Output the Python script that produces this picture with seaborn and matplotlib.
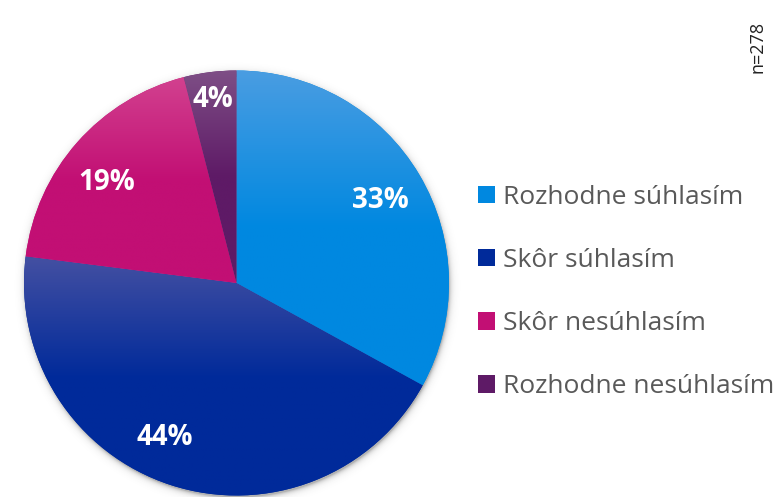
import numpy as np
import matplotlib
matplotlib.use("Agg")
import matplotlib.pyplot as plt
import seaborn as sns
from matplotlib.colors import to_rgb
from matplotlib.patches import Patch

# Survey answers and their shares (percent)
categories = ["Rozhodne súhlasím", "Skôr súhlasím", "Skôr nesúhlasím", "Rozhodne nesúhlasím"]
shares = [33, 44, 19, 4]
value_labels = ["33%", "44%", "19%", "4%"]
sample_note = "n=278"

sns.set_theme(style="white")
plt.rcParams["font.family"] = ["Open Sans", "DejaVu Sans"]

# Slice styling: solid base colour with a lighter tone fading in from the top
base_colors = ["#0088E0", "#002A9A", "#C20F74", "#5E1A66"]
top_colors = ["#4A9DE2", "#4450A2", "#D2418F", "#7E4F86"]
# label placement: radial distance (fraction of radius) and angular nudge (deg)
label_dist = [0.78, 0.80, 0.77, 0.87]
label_nudge = [-0.6, -7.0, 3.7, 0.0]

W, H = 777, 497
fig = plt.figure(figsize=(W / 100, H / 100), dpi=100)
fig.patch.set_facecolor("white")
ax = fig.add_axes([0, 0, 1, 1])

cx, cy, R = 236.5, H - 283, 212.5

wedges, _ = ax.pie(shares, colors=base_colors, startangle=90, counterclock=False,
                   center=(cx, cy), radius=R, frame=True,
                   wedgeprops=dict(linewidth=0, zorder=2))

# soft drop shadow around the pie
X, Y = np.meshgrid(np.arange(W) + 0.5, np.arange(H) + 0.5)
d = np.hypot(X - (cx + 1.0), Y - (cy - 2.5))
alpha = 0.40 * np.exp(-np.clip(d - R + 1.0, 0, None) / 2.5)
alpha[d < R - 4] = 0
shadow = np.zeros((H, W, 4))
shadow[..., :3] = 0.25
shadow[..., 3] = alpha
ax.imshow(shadow, extent=(0, W, 0, H), origin="lower", aspect="auto", zorder=1,
          interpolation="bilinear")

# vertical gradient fill inside each slice
for w, top, base in zip(wedges, top_colors, base_colors):
    verts = w.get_path().vertices
    y0, y1 = verts[:, 1].min(), verts[:, 1].max()
    ys = np.linspace(y1, y0, 300)
    t = np.clip((y1 - ys) / ((y1 - y0) * 0.5), 0, 1)
    c0, c1 = np.array(to_rgb(top)), np.array(to_rgb(base))
    col = c0[None, :] * (1 - t[:, None]) + c1[None, :] * t[:, None]
    img = np.repeat(col[:, None, :], 2, axis=1)
    im = ax.imshow(img, extent=(cx - R, cx + R, y0, y1), origin="upper", aspect="auto",
                   zorder=3, interpolation="bilinear")
    im.set_clip_path(w)

# percentage labels
cum = np.cumsum([0] + shares)
total = float(sum(shares))
for i, (lab, dist, nudge) in enumerate(zip(value_labels, label_dist, label_nudge)):
    theta = np.deg2rad(90 - 360 * (cum[i] + shares[i] / 2) / total + nudge)
    ax.text(cx + dist * R * np.cos(theta), cy + dist * R * np.sin(theta), lab,
            ha="center", va="center", color="white", fontsize=20, fontweight="bold",
            zorder=5)

ax.set_xlim(0, W)
ax.set_ylim(0, H)
ax.set_aspect("auto")
ax.axis("off")

handles = [Patch(facecolor=c, edgecolor="none") for c in base_colors]
fig.legend(handles, categories, loc="center left", bbox_to_anchor=(478 / W, 1 - 292 / H),
           frameon=False, fontsize=19, labelcolor="#595959", handlelength=0.64,
           handleheight=0.64, handletextpad=0.3, labelspacing=1.45,
           borderpad=0, borderaxespad=0)

fig.text(757 / W, 1 - 47 / H, sample_note, rotation=90, ha="center", va="center",
         fontsize=13, color="#222222")

fig.savefig("out.png", dpi=100, facecolor="white")
